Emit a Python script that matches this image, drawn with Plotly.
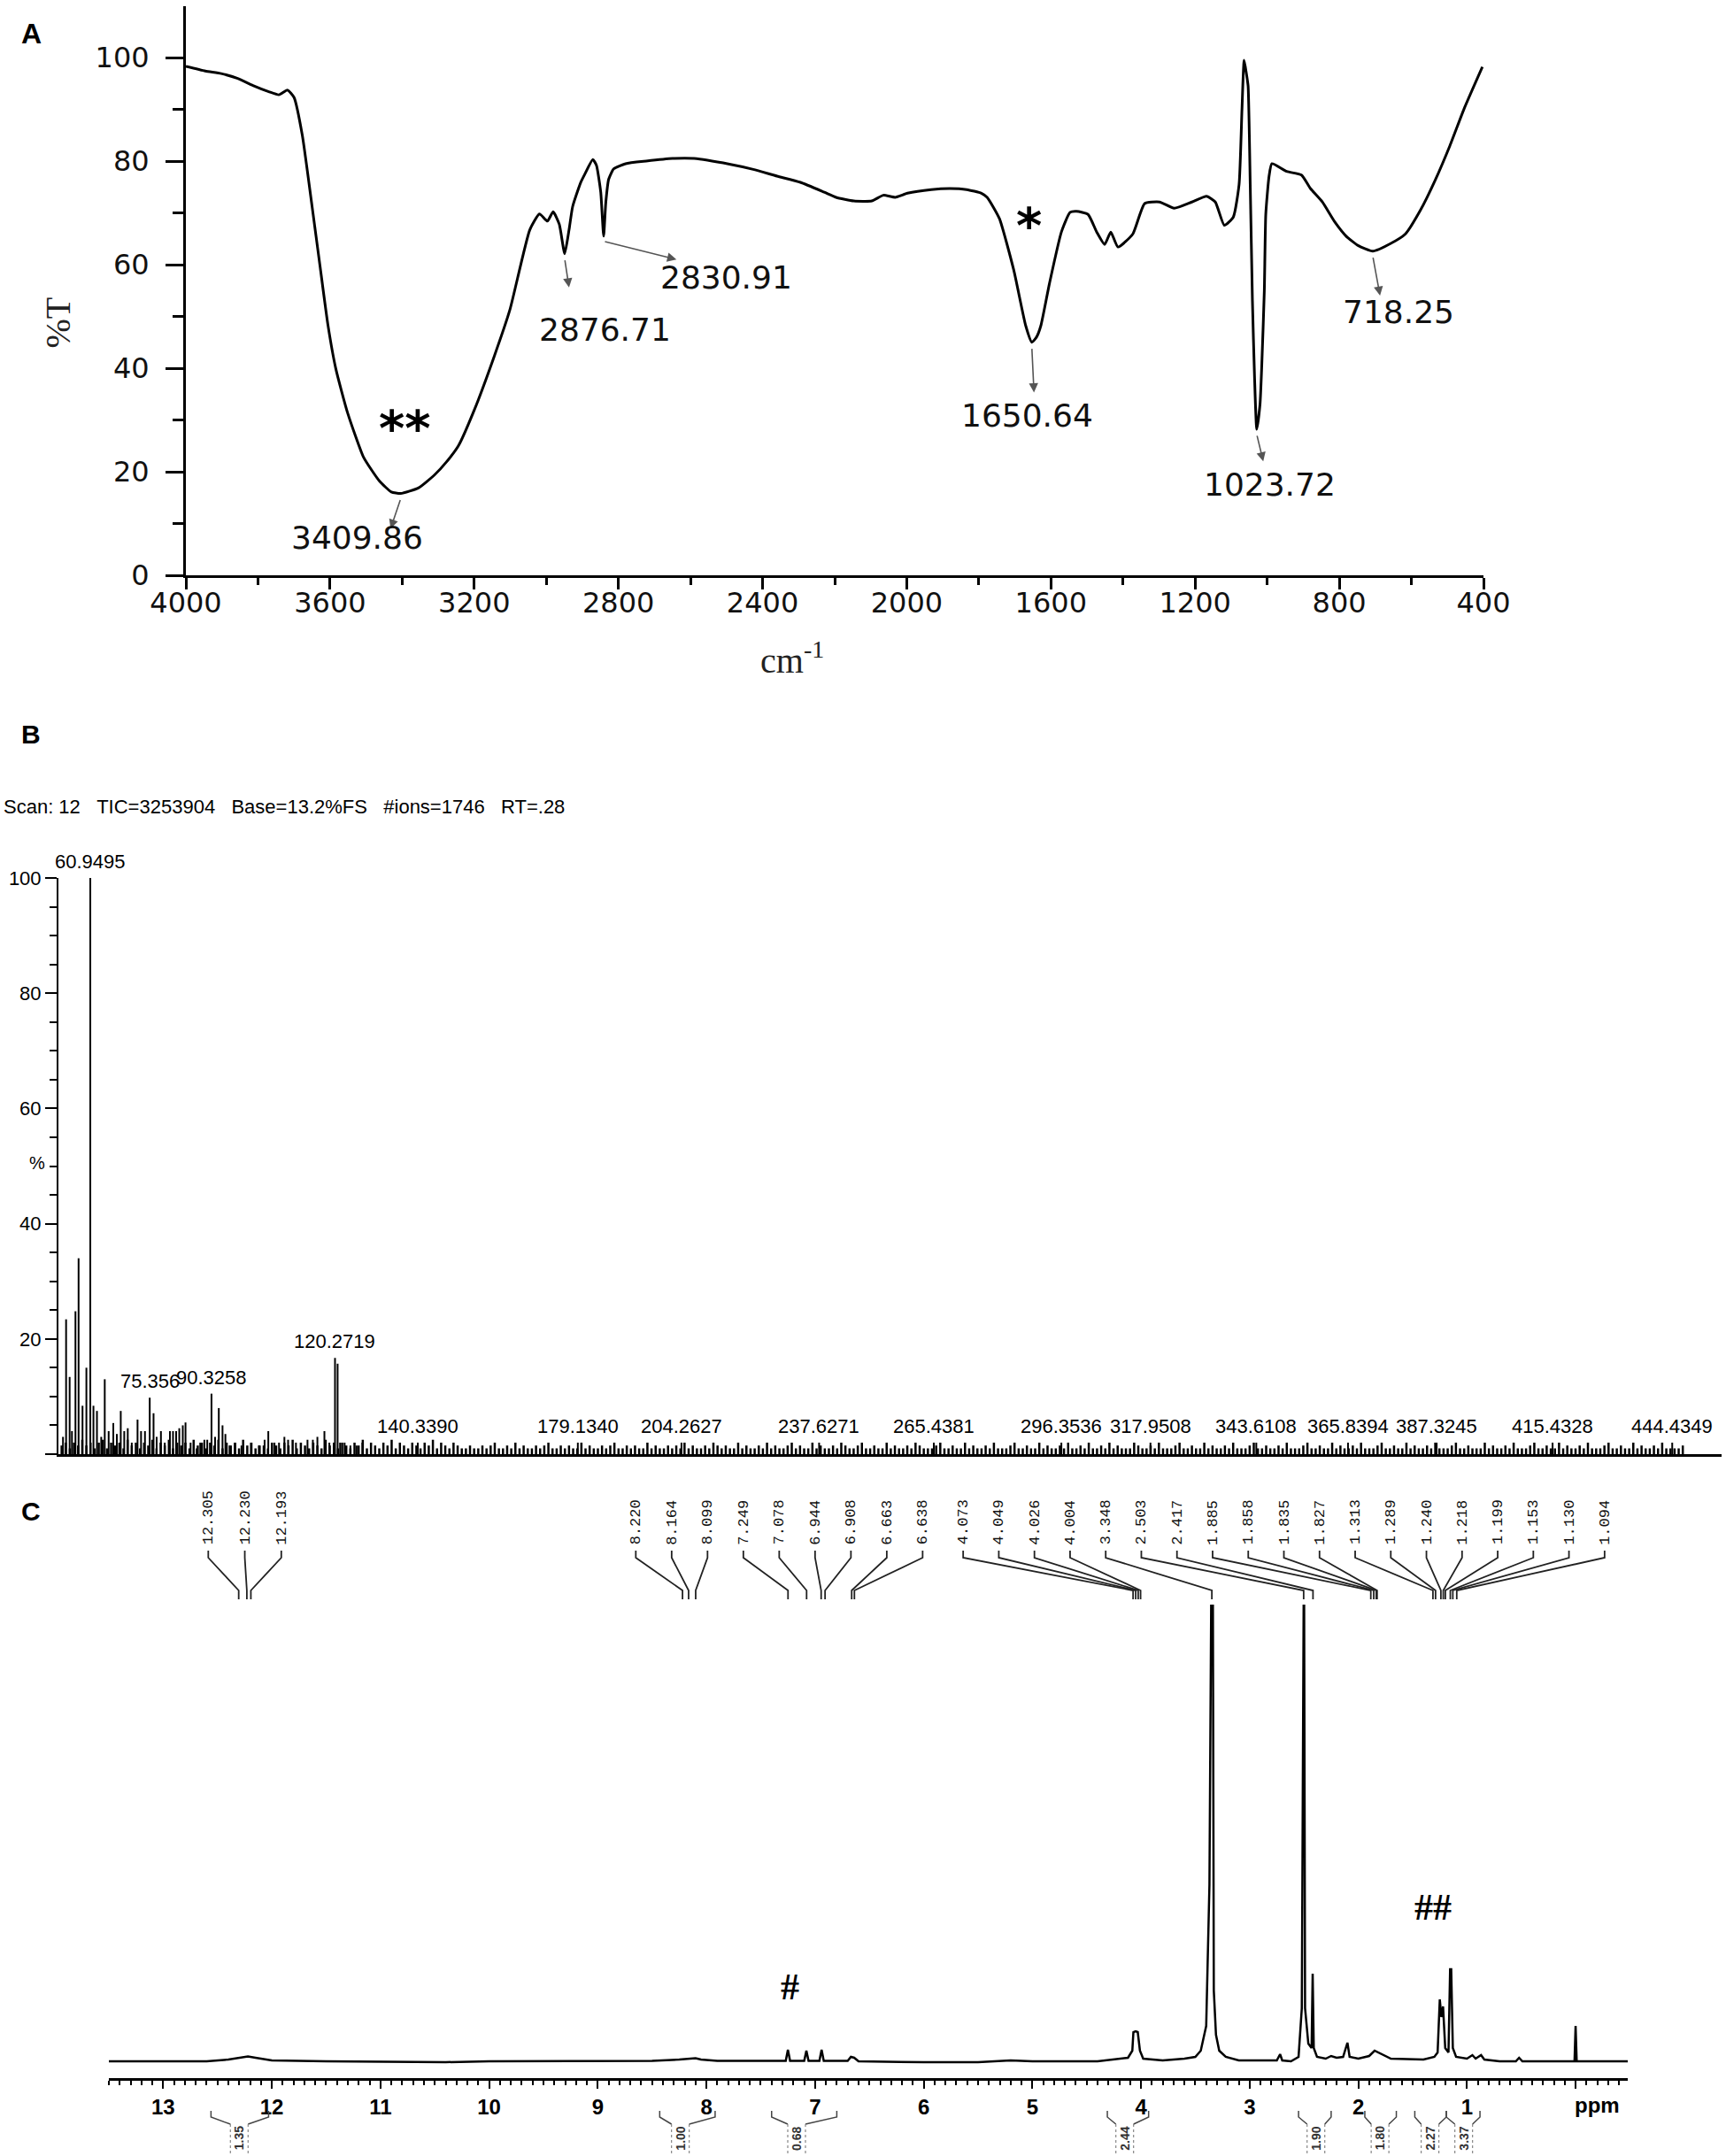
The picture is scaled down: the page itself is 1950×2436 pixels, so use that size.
import plotly.graph_objects as go

W, H = 1950, 2436

# ---------------- Panel A : FT-IR ----------------
ir_wavenumber = [4000, 3946, 3902, 3858, 3814, 3770, 3742, 3718, 3700, 3677,
                 3650, 3628, 3606, 3584, 3551, 3507, 3463, 3430, 3404, 3354,
                 3310, 3277, 3244, 3200, 3145, 3101, 3046, 3019, 2997, 2981,
                 2964, 2949, 2937, 2927, 2905, 2893, 2871, 2861, 2849, 2841,
                 2835, 2827, 2813, 2780, 2723, 2650, 2590, 2492, 2426, 2360,
                 2295, 2229, 2196, 2147, 2097, 2065, 2032, 1998, 1932, 1880,
                 1834, 1793, 1777, 1743, 1703, 1670, 1653, 1640, 1628, 1604,
                 1571, 1547, 1529, 1497, 1473, 1451, 1434, 1414, 1373, 1340,
                 1299, 1258, 1209, 1168, 1144, 1119, 1094, 1078, 1070, 1064,
                 1058, 1053, 1047, 1041, 1035, 1029, 1020, 1015, 1008, 1004,
                 995, 987, 946, 905, 880, 847, 814, 781, 748, 707,
                 657, 617, 575, 534, 493, 452, 403]
ir_transmittance = [98.3, 97.4, 96.9, 96.0, 94.6, 93.4, 92.8, 93.7, 92.3, 85.0,
                    71.3, 59.8, 48.4, 39.9, 31.3, 22.8, 18.2, 16.1, 15.8, 16.9,
                    19.4, 21.9, 25.0, 31.9, 42.2, 51.3, 66.7, 69.8, 68.4, 70.2,
                    67.8, 62.1, 66.7, 71.2, 75.8, 77.5, 80.3, 79.2, 74.0, 65.5,
                    72.0, 76.5, 78.5, 79.5, 80.0, 80.5, 80.5, 79.4, 78.4, 77.1,
                    75.9, 74.0, 73.0, 72.3, 72.3, 73.4, 73.0, 73.8, 74.5, 74.7,
                    74.5, 73.8, 73.0, 68.9, 58.9, 48.2, 45.0, 46.0, 48.2, 56.4,
                    66.3, 70.1, 70.3, 69.7, 66.3, 63.9, 66.3, 63.4, 65.9, 71.8,
                    72.1, 70.9, 72.1, 73.2, 72.1, 67.6, 69.2, 75.5, 90.0, 99.5,
                    97.0, 94.5, 75.0, 53.0, 38.0, 28.2, 33.0, 40.7, 55.0, 69.7,
                    77.0, 79.5, 78.0, 77.3, 74.7, 72.1, 68.4, 65.5, 63.7, 62.6,
                    64.1, 65.9, 70.5, 76.3, 83.0, 90.4, 98.2]
assert len(ir_wavenumber) == len(ir_transmittance)

ir_label_text = ["3409.86", "2876.71", "2830.91", "1650.64", "1023.72", "718.25"]
ir_label_peak_wn = [3404, 2949, 2841, 1653, 1029, 707]
ir_label_peak_t = [15.8, 62.1, 65.5, 45.0, 28.2, 62.6]
ir_x_ticks = [4000, 3600, 3200, 2800, 2400, 2000, 1600, 1200, 800, 400]
ir_y_ticks = [0, 20, 40, 60, 80, 100]

# ---------------- Panel B : MS ----------------
ms_header = "Scan: 12   TIC=3253904   Base=13.2%FS   #ions=1746   RT=.28"
ms_mz = [54.33, 55.08, 55.94, 56.5, 57.35, 58.11, 59.06, 60.0, 60.9495, 61.71,
         62.56, 63.6, 64.45, 65.4, 66.53, 67.38, 68.33, 69.18, 70.03, 71.0,
         72.4, 73.25, 74.2, 75.356, 76.28, 77.03, 78.07, 79.0, 80.25, 81.0,
         81.76, 82.52, 83.37, 84.03, 85.26, 86.7, 87.6, 88.6, 89.3, 90.3258,
         91.2, 92.1, 93.0, 93.7, 94.7, 96.1, 97.6, 99.9, 101.8, 103.2,
         104.1, 105.6, 106.7, 108.0, 108.9, 110.8, 112.0, 113.6, 114.9, 116.0,
         117.7, 118.9, 120.2719, 120.9, 121.5, 122.6, 124.0, 125.5, 126.9,
         140.339, 179.134, 204.2627, 237.6271, 265.4381, 296.3536, 317.9508,
         343.6108, 365.8394, 387.3245, 415.4328, 444.4349]
ms_intensity = [3.0, 23.4, 13.4, 4.0, 24.8, 34.0, 8.4, 15.0, 100.0, 8.4,
                7.5, 3.0, 13.0, 4.0, 5.4, 3.5, 7.5, 4.0, 4.5, 2.0,
                6.0, 4.0, 4.0, 9.8, 7.1, 3.0, 4.0, 2.0, 4.0, 4.0,
                4.0, 4.5, 5.0, 5.5, 2.0, 1.0, 2.0, 2.5, 2.5, 10.5,
                3.0, 8.0, 5.0, 3.5, 1.5, 2.0, 1.5, 2.0, 1.5, 2.5,
                4.0, 2.0, 2.0, 3.0, 2.5, 2.0, 2.0, 2.5, 2.5, 3.0,
                4.0, 2.0, 16.7, 15.7, 2.0, 2.0, 1.5, 1.5, 2.0,
                2.0, 2.0, 2.0, 2.0, 2.0, 2.0, 2.0,
                2.0, 2.0, 2.0, 2.0, 2.0]
assert len(ms_mz) == len(ms_intensity)
ms_label_text = ["60.9495", "75.356", "90.3258", "120.2719", "140.3390", "179.1340",
                 "204.2627", "237.6271", "265.4381", "296.3536", "317.9508",
                 "343.6108", "365.8394", "387.3245", "415.4328", "444.4349"]
ms_label_mz = [60.9495, 75.356, 90.3258, 120.2719, 140.339, 179.134, 204.2627,
               237.6271, 265.4381, 296.3536, 317.9508, 343.6108, 365.8394,
               387.3245, 415.4328, 444.4349]
ms_label_int = [100.0, 9.8, 10.5, 16.7, 2.0, 2.0, 2.0, 2.0, 2.0, 2.0, 2.0,
                2.0, 2.0, 2.0, 2.0, 2.0]
# minor-ion floor, one value per m/z from 54 (units of 0.5 %)
ms_noise_start = 54
ms_noise_half_pct = ("3424353424524342534243524352434253424352434253423"
                     "3243243524324325342432435243243524324324352432432"
                     "2322323422324232232342232322423223234223232242322"
                     "3232423223243232242322324232234232242322324322342"
                     "2322423223243222342232242322324222342232242322324"
                     "2232422324232224322324222342232242322324222342232"
                     "2324222342232242322324222342232242322324222342232"
                     "2242322324222342232242322324222342232242322324222"
                     "23")
ms_y_ticks = [0, 20, 40, 60, 80, 100]
ms_y_ticktext = ["", "20", "40", "60", "80", "100"]

# ---------------- Panel C : 1H NMR ----------------
nmr_ppm = [13.5, 12.6, 12.4, 12.3, 12.22, 12.15, 12.0, 11.5, 10.4, 10.0,
           9.0, 8.5, 8.25, 8.16, 8.10, 8.05, 7.9, 7.5, 7.27, 7.25,
           7.23, 7.10, 7.08, 7.06, 6.96, 6.94, 6.92, 6.70, 6.67, 6.64,
           6.60, 6.0, 5.5, 5.2, 5.0, 4.4, 4.25, 4.12, 4.08, 4.07,
           4.05, 4.03, 4.01, 3.98, 3.8, 3.6, 3.5, 3.45, 3.40, 3.37,
           3.35, 3.34, 3.33, 3.31, 3.28, 3.22, 3.1, 2.9, 2.75, 2.72,
           2.70, 2.62, 2.55, 2.52, 2.505, 2.50, 2.49, 2.46, 2.43, 2.42,
           2.41, 2.38, 2.3, 2.25, 2.2, 2.14, 2.10, 2.08, 2.0, 1.9,
           1.85, 1.80, 1.7, 1.4, 1.3, 1.27, 1.25, 1.235, 1.22, 1.20,
           1.17, 1.155, 1.145, 1.13, 1.1, 1.0, 0.95, 0.92, 0.87, 0.84,
           0.7, 0.55, 0.52, 0.49, 0.3, 0.01, 0.0, -0.01, -0.48]
nmr_intensity = [0, 0, 2, 4, 5.5, 4, 1, 0, -1, 0,
                 0, 0.5, 2, 3, 3.5, 2, 0.5, 0.5, 0.5, 13,
                 0.5, 0.5, 12, 0.5, 0.5, 13, 0.5, 0.5, 5, 4,
                 0, -1, -1, 1, 0, 0, 2, 4, 12, 33,
                 34, 33, 12, 3, 1, 3, 5, 12, 40, 200,
                 600, 600, 80, 30, 12, 5, 1, 1, 1, 8,
                 1, 0, 5, 60, 600, 600, 60, 20, 15, 99,
                 15, 5, 3, 6, 4, 5, 21, 5, 3, 6,
                 12, 9, 3, 2, 5, 10, 70, 50, 62, 15,
                 10, 104, 104, 15, 5, 3, 7, 3, 7, 2,
                 0, 0, 4, 0, 0, 0, 40, 0, 0]
assert len(nmr_ppm) == len(nmr_intensity)

nmr_label_ppm = [12.305, 12.230, 12.193,
                 8.220, 8.164, 8.099, 7.249, 7.078, 6.944, 6.908, 6.663, 6.638,
                 4.073, 4.049, 4.026, 4.004, 3.348, 2.503, 2.417, 1.885, 1.858,
                 1.835, 1.827, 1.313, 1.289, 1.240, 1.218, 1.199, 1.153, 1.130, 1.094]
nmr_label_text = ["12.305", "12.230", "12.193",
                  "8.220", "8.164", "8.099", "7.249", "7.078", "6.944", "6.908", "6.663", "6.638",
                  "4.073", "4.049", "4.026", "4.004", "3.348", "2.503", "2.417", "1.885", "1.858",
                  "1.835", "1.827", "1.313", "1.289", "1.240", "1.218", "1.199", "1.153", "1.130", "1.094"]
nmr_label_group = [0] * 3 + [1] * 9 + [2] * 19

integ_text = ["1.35", "1.00", "0.68", "2.44", "1.90", "1.80", "2.27", "3.37"]
integ_start = [12.56, 8.43, 7.40, 4.31, 2.55, 1.94, 1.48, 1.19]
integ_end = [12.03, 7.92, 6.80, 3.93, 2.25, 1.65, 1.19, 0.88]
integ_center = [12.30, 8.24, 7.17, 4.15, 2.39, 1.80, 1.34, 1.03]
nmr_ticks = list(range(0, 14))

# ================= layout helpers =================
def fx(px):
    return px / W


def fy(py):
    return 1 - py / H


fig = go.Figure()

# ---- A traces ----
fig.add_trace(go.Scatter(x=ir_wavenumber, y=ir_transmittance, mode="lines",
                         line=dict(color="black", width=3, shape="spline", smoothing=0.5),
                         xaxis="x", yaxis="y", showlegend=False, hoverinfo="skip"))

# ---- B traces ----
def sticks(xs, ys):
    X, Y = [], []
    for x, y in zip(xs, ys):
        X += [x, x, None]
        Y += [0, y, None]
    return X, Y


noise_mz = [ms_noise_start + i for i in range(len(ms_noise_half_pct))]
noise_int = [int(c) * 0.5 for c in ms_noise_half_pct]
nx, ny = sticks(noise_mz, noise_int)
fig.add_trace(go.Scatter(x=nx, y=ny, mode="lines", line=dict(color="black", width=2.5),
                         xaxis="x2", yaxis="y2", showlegend=False, hoverinfo="skip"))
sx, sy = sticks(ms_mz, ms_intensity)
fig.add_trace(go.Scatter(x=sx, y=sy, mode="lines", line=dict(color="black", width=2),
                         xaxis="x2", yaxis="y2", showlegend=False, hoverinfo="skip"))

# ---- C traces ----
fig.add_trace(go.Scatter(x=nmr_ppm, y=nmr_intensity, mode="lines",
                         line=dict(color="black", width=2.5),
                         xaxis="x3", yaxis="y3", showlegend=False, hoverinfo="skip"))

# label tree positions (ppm where each rotated label sits)
group_start = [12.585, 8.650, 5.637]
group_step = [0.336, 0.330, 0.328]
counters = [0, 0, 0]
label_pos = []
for g in nmr_label_group:
    label_pos.append(group_start[g] - counters[g] * group_step[g])
    counters[g] += 1

tx, ty = [], []
for L, P in zip(label_pos, nmr_label_ppm):
    tx += [L, L, P, P, None]
    ty += [55, 47, 10, 0, None]
fig.add_trace(go.Scatter(x=tx, y=ty, mode="lines", line=dict(color="#222", width=1.8),
                         xaxis="x3", yaxis="y4", showlegend=False, hoverinfo="skip"))

# integration brackets
d = 10 / 122.77
bx, by = [], []
boxx, boxy = [], []
for a, b, c in zip(integ_start, integ_end, integ_center):
    bx += [a, a, c + d, None, b, b, c - d, None]
    by += [51, 44, 36, None, 51, 44, 36, None]
    boxx += [c + d, c + d, None, c - d, c - d, None]
    boxy += [36, 3, None, 36, 3, None]
fig.add_trace(go.Scatter(x=bx, y=by, mode="lines", line=dict(color="#444", width=1.5),
                         xaxis="x3", yaxis="y5", showlegend=False, hoverinfo="skip"))
fig.add_trace(go.Scatter(x=boxx, y=boxy, mode="lines", line=dict(color="#888", width=1.2, dash="dot"),
                         xaxis="x3", yaxis="y5", showlegend=False, hoverinfo="skip"))

annotations = []

# ---- A annotations ----
ir_arrow_tip = [(3432, 9.0), (2937, 55.6), (2639, 61.0), (1647, 35.3), (1011, 22.0), (687, 54.0)]
ir_text_pos = [(3524, 7.2), (2838, 47.5), (2502, 57.6), (1665, 30.9), (992, 17.6), (636, 50.8)]
for txt, pw, pt, tip, tp in zip(ir_label_text, ir_label_peak_wn, ir_label_peak_t, ir_arrow_tip, ir_text_pos):
    annotations.append(dict(x=tip[0], y=tip[1], ax=pw, ay=pt - 1.0, axref="x", ayref="y",
                            xref="x", yref="y", text="", showarrow=True, arrowhead=2,
                            arrowsize=1.3, arrowwidth=1.6, arrowcolor="#555", standoff=0,
                            startstandoff=0))
    annotations.append(dict(x=tp[0], y=tp[1], xref="x", yref="y", text=txt, showarrow=False,
                            font=dict(family="DejaVu Sans", size=36, color="#111")))
annotations.append(dict(x=3392, y=28.5, xref="x", yref="y", text="**", showarrow=False,
                        font=dict(family="DejaVu Sans", size=56, color="black", weight="bold")))
annotations.append(dict(x=1662, y=67.6, xref="x", yref="y", text="*", showarrow=False,
                        font=dict(family="DejaVu Sans", size=56, color="black", weight="bold")))
annotations.append(dict(x=fx(40), y=fy(334), xref="paper", yref="paper", text="%T",
                        textangle=-90, showarrow=False,
                        font=dict(family="Liberation Serif", size=40, color="#222")))
annotations.append(dict(x=fx(895), y=fy(716), xref="paper", yref="paper",
                        text="cm<sup>-1</sup>", showarrow=False,
                        font=dict(family="Liberation Serif", size=40, color="#222")))
annotations.append(dict(x=fx(22), y=fy(18), xref="paper", yref="paper", text="<b>A</b>",
                        showarrow=False, font=dict(family="Liberation Sans", size=32, color="black")))

# ---- B annotations ----
annotations.append(dict(x=fx(22), y=fy(830), xref="paper", yref="paper", text="<b>B</b>",
                        showarrow=False, font=dict(family="Liberation Sans", size=30, color="black")))
annotations.append(dict(x=fx(2), y=fy(911), xref="paper", yref="paper", xanchor="left",
                        text=ms_header.replace(" ", "\u00a0"), showarrow=False,
                        font=dict(family="Liberation Sans", size=22, color="black")))
annotations.append(dict(x=fx(31), y=fy(1314), xref="paper", yref="paper", text="%",
                        showarrow=False, font=dict(family="Liberation Sans", size=20, color="black")))
for txt, mz, inten in zip(ms_label_text, ms_label_mz, ms_label_int):
    annotations.append(dict(x=mz, y=inten, xref="x2", yref="y2", text=txt, showarrow=False,
                            yanchor="bottom", yshift=4,
                            font=dict(family="Liberation Sans", size=22, color="black")))

# ---- C annotations ----
annotations.append(dict(x=fx(22), y=fy(1726), xref="paper", yref="paper", text="<b>C</b>",
                        showarrow=False, font=dict(family="Liberation Sans", size=30, color="black")))
for L, txt in zip(label_pos, nmr_label_text):
    annotations.append(dict(x=L, y=62 + len(txt) * 5.0, xref="x3", yref="y4", text=txt,
                            textangle=-90, showarrow=False,
                            font=dict(family="Liberation Mono", size=17, color="#111")))
for c, txt in zip(integ_center, integ_text):
    annotations.append(dict(x=c, y=20, xref="x3", yref="y5", text="<b>" + txt + "</b>",
                            textangle=-90, showarrow=False,
                            font=dict(family="Liberation Sans", size=14, color="#333")))
annotations.append(dict(x=7.23, y=84, xref="x3", yref="y3", text="<b>#</b>", showarrow=False,
                        font=dict(family="Liberation Serif", size=42, color="black")))
annotations.append(dict(x=1.31, y=174, xref="x3", yref="y3", text="<b>##</b>", showarrow=False,
                        font=dict(family="Liberation Serif", size=42, color="black")))
annotations.append(dict(x=-0.2, y=fy(2394), xref="x3", yref="paper", text="<b>ppm</b>",
                        showarrow=False, font=dict(family="Liberation Sans", size=24, color="black")))

fig.update_layout(
    width=W, height=H, autosize=False,
    margin=dict(l=0, r=0, t=0, b=0, pad=0),
    paper_bgcolor="white", plot_bgcolor="white",
    showlegend=False,
    annotations=annotations,
    xaxis=dict(domain=[fx(210), fx(1676)], range=[4000, 400], anchor="y", automargin=False,
               showline=True, linewidth=3, linecolor="black", mirror=False,
               ticks="outside", tickvals=ir_x_ticks, ticklen=13, tickwidth=3, tickcolor="black",
               minor=dict(tickvals=[3800, 3400, 3000, 2600, 2200, 1800, 1400, 1000, 600],
                          ticks="outside", ticklen=8, tickwidth=3, tickcolor="black", showgrid=False),
               tickfont=dict(family="DejaVu Sans", size=32, color="#111"),
               showgrid=False, zeroline=False, ticklabelstandoff=-12),
    yaxis=dict(domain=[fy(650), fy(6.5)], range=[0, 110], anchor="x", automargin=False,
               showline=True, linewidth=3, linecolor="black",
               ticks="outside", tickvals=ir_y_ticks, ticklen=20, tickwidth=3, tickcolor="black",
               minor=dict(tickvals=[10, 30, 50, 70, 90], ticks="outside", ticklen=12,
                          tickwidth=3, tickcolor="black", showgrid=False),
               tickfont=dict(family="DejaVu Sans", size=32, color="#111"),
               showgrid=False, zeroline=False, ticklabelstandoff=12),
    xaxis2=dict(domain=[fx(66), fx(1945)], range=[53.22, 456.4], anchor="y2", automargin=False,
                showline=True, linewidth=2.5, linecolor="black", ticks="",
                showticklabels=False, showgrid=False, zeroline=False),
    yaxis2=dict(domain=[fy(1643), fy(992)], range=[0, 100], anchor="x2", automargin=False,
                showline=True, linewidth=2, linecolor="black",
                ticks="outside", tickvals=ms_y_ticks, ticktext=ms_y_ticktext,
                ticklen=13, tickwidth=2, tickcolor="black",
                minor=dict(tickvals=[5, 10, 15, 25, 30, 35, 45, 50, 55, 65, 70, 75, 85, 90, 95],
                           ticks="outside", ticklen=8, tickwidth=2, tickcolor="black", showgrid=False),
                tickfont=dict(family="Liberation Sans", size=22, color="black"),
                showgrid=False, zeroline=False, ticklabelstandoff=0),
    xaxis3=dict(domain=[fx(123), fx(1839)], range=[13.5, -0.48], anchor="y3", automargin=False,
                showline=True, linewidth=3, linecolor="black",
                ticks="outside", tickvals=nmr_ticks,
                ticktext=[""] + [str(i) for i in range(1, 14)],
                ticklen=9, tickwidth=2, tickcolor="black",
                minor=dict(dtick=0.1, tick0=0, ticks="outside", ticklen=5, tickwidth=1.5,
                           tickcolor="black", showgrid=False),
                tickfont=dict(family="Liberation Sans", size=24, color="black", weight="bold"),
                showgrid=False, zeroline=False, ticklabelstandoff=0),
    yaxis3=dict(domain=[fy(2348), fy(1813)], range=[-19, 516], anchor="x3", visible=False,
                automargin=False),
    yaxis4=dict(domain=[fy(1807), fy(1680)], range=[0, 127], anchor="x3", visible=False,
                automargin=False),
    yaxis5=dict(domain=[0, fy(2378)], range=[0, 58], anchor="x3", visible=False,
                automargin=False),
)

fig.write_html("out.html", config={"displayModeBar": False},
               post_script="document.body.style.margin='0';document.body.style.padding='0';")
